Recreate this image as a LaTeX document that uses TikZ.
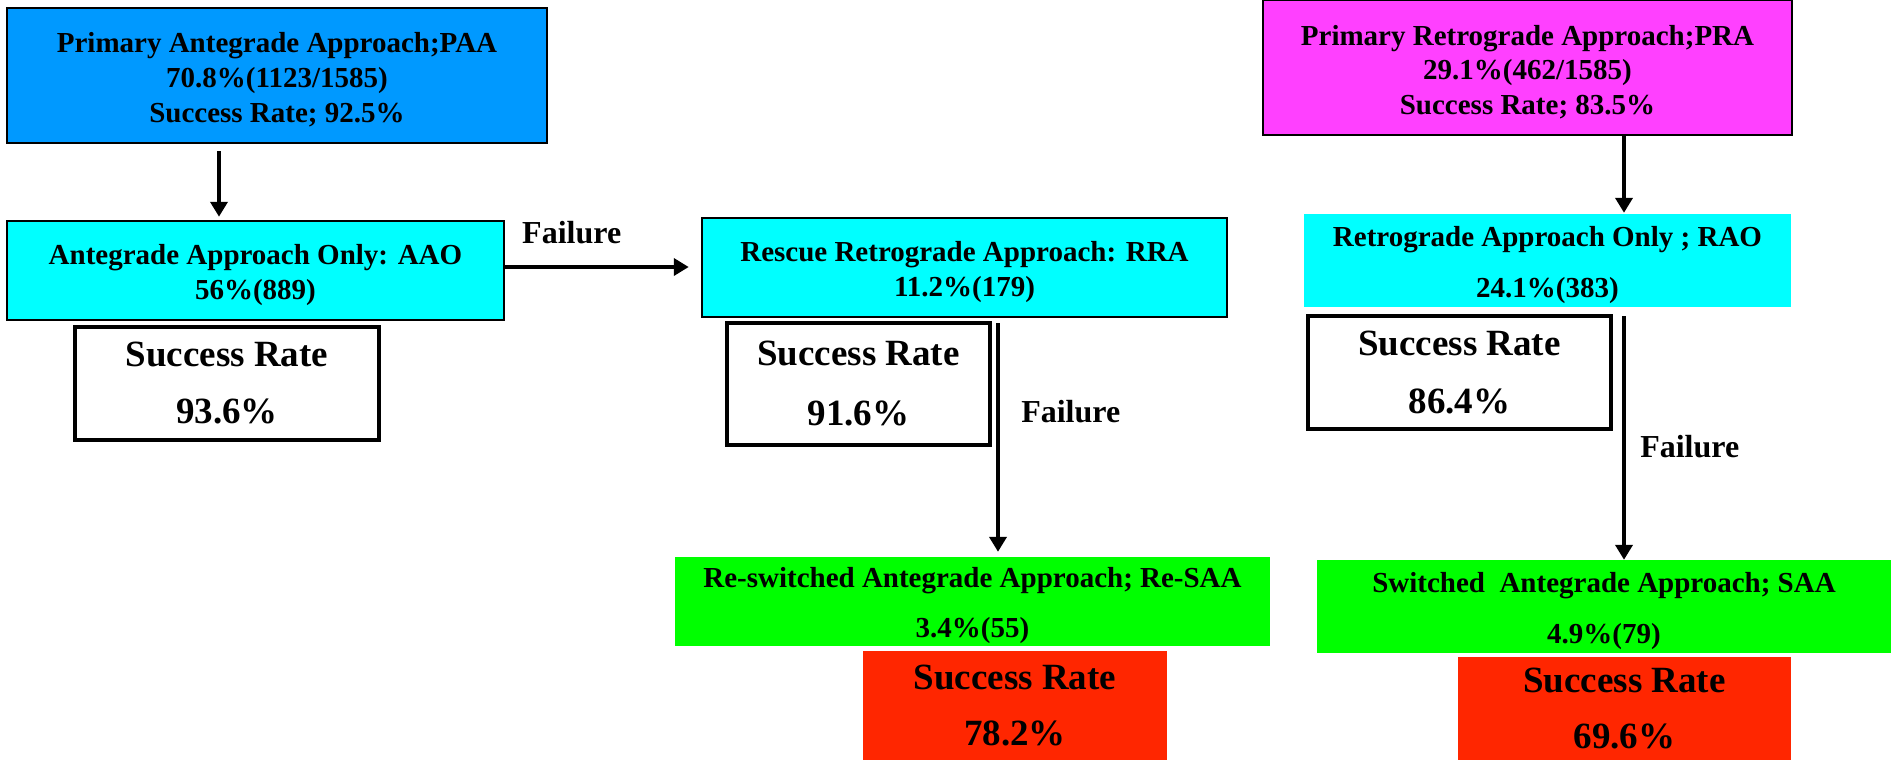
\documentclass[tikz,border=0pt]{standalone}
\usepackage{fontspec}
\setmainfont{Liberation Serif}
\usetikzlibrary{arrows.meta, calc}
\definecolor{paablue}{RGB}{0,153,255}
\definecolor{onlycyan}{RGB}{0,255,255}
\definecolor{pramagenta}{RGB}{255,64,255}
\definecolor{switchgreen}{RGB}{0,255,0}
\definecolor{ratered}{RGB}{255,38,0}
% taller first line, so the lines sit a little lower in their box
\newcommand{\tallline}{\rule{0pt}{29pt}}

\begin{document}
\begin{tikzpicture}[x=1pt, y=-1pt, >={Triangle[width=17pt,length=15pt]}]

        % Styles
        \tikzset{
            box/.style={draw=black, line width=2.5pt, align=center, inner sep=0pt, font=\fontsize{29}{35}\selectfont\bfseries},
            flat/.style={align=center, inner sep=0pt, font=\fontsize{29}{51}\selectfont\bfseries},
            ratebox/.style={draw=black, line width=4.5pt, fill=white, align=center, inner sep=0pt, font=\fontsize{37}{57}\selectfont\bfseries},
            redbox/.style={fill=ratered, align=center, inner sep=0pt, font=\fontsize{37}{56}\selectfont\bfseries},
            arrow/.style={->, line width=4.5pt},
            faillabel/.style={inner sep=0pt, font=\fontsize{32}{38}\selectfont\bfseries}
        }

        \useasboundingbox (0,0) rectangle (1891,760);

        % --- ANTEGRADE (left) ---
        \node[box, fill=paablue, minimum width=540pt, minimum height=135pt] (paa) at (277,75.5) {\tallline Primary Antegrade Approach;PAA\\70.8\%(1123/1585)\\Success Rate; 92.5\%};
        \node[box, fill=onlycyan, minimum width=497pt, minimum height=99pt] (aao) at (255.5,270.5) {\tallline Antegrade Approach Only: AAO\\56\%(889)};
        \node[ratebox, minimum width=304pt, minimum height=113pt] (aaorate) at (227,383.5) {Success Rate\\93.6\%};

        % --- RESCUE (middle) ---
        \node[box, fill=onlycyan, minimum width=525pt, minimum height=99pt] (rra) at (964.5,267.5) {\tallline Rescue Retrograde Approach: RRA\\11.2\%(179)};
        \node[ratebox, minimum width=263pt, minimum height=122pt, font=\fontsize{37}{60}\selectfont\bfseries] (rrarate) at (858.5,384) {Success Rate\\91.6\%};
        \node[flat, fill=switchgreen, minimum width=595pt, minimum height=89pt, font=\fontsize{29}{50}\selectfont\bfseries] (resaa) at (972.5,601.5) {\tallline Re-switched Antegrade Approach; Re-SAA\\3.4\%(55)};
        \node[redbox, minimum width=304pt, minimum height=109pt] (resaarate) at (1015,705.5) {Success Rate\\78.2\%};

        % --- RETROGRADE (right) ---
        \node[box, fill=pramagenta, minimum width=529pt, minimum height=135pt, font=\fontsize{29}{34.5}\selectfont\bfseries] (pra) at (1527.5,67.5) {\tallline Primary Retrograde Approach;PRA\\29.1\%(462/1585)\\Success Rate; 83.5\%};
        \node[flat, fill=onlycyan, minimum width=487pt, minimum height=93pt] (rao) at (1547.5,260.5) {\tallline Retrograde Approach Only ; RAO\\24.1\%(383)};
        \node[ratebox, minimum width=303pt, minimum height=113pt, font=\fontsize{37}{58}\selectfont\bfseries] (raorate) at (1459.5,372.5) {Success Rate\\86.4\%};
        \node[flat, fill=switchgreen, minimum width=574pt, minimum height=93pt] (saa) at (1604,606.5) {\tallline Switched\ \ Antegrade Approach; SAA\\4.9\%(79)};
        \node[redbox, minimum width=333pt, minimum height=103pt] (saarate) at (1624.5,708.5) {Success Rate\\69.6\%};

        % --- CONNECTIONS ---
        \draw[arrow, shorten <=7pt, shorten >=3pt] ([xshift=-58pt]paa.south) -- ([xshift=-36.5pt]aao.north);
        \draw[arrow, shorten >=12pt] ([yshift=3.5pt]aao.east) -- node[faillabel, pos=0.34, above=21pt] {Failure} ([yshift=3.5pt]aao.east -| rra.west);
        \draw[arrow, shorten <=5pt, shorten >=5pt] ([xshift=33.5pt]rra.south) -- node[faillabel, pos=0.39, right=21pt] {Failure} ([xshift=33.5pt]rra.south |- resaa.north);

        \draw[arrow, shorten >=1pt] ([xshift=96.5pt]pra.south) -- ([xshift=96.5pt]pra.south |- rao.north);
        \draw[arrow, shorten <=9pt] ([xshift=76.5pt]rao.south) -- node[faillabel, pos=0.55, right=14pt] {Failure} ([xshift=76.5pt]rao.south |- saa.north);

\end{tikzpicture}
\end{document}
